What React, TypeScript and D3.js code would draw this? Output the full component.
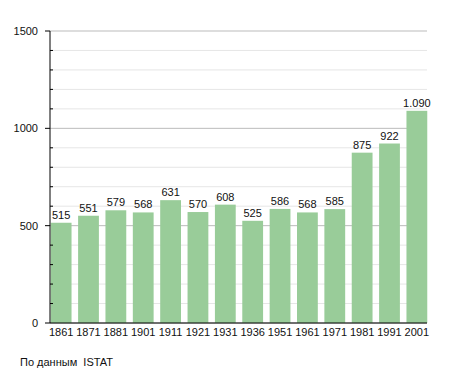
import React from "react";
import * as d3 from "d3";

const years = ["1861", "1871", "1881", "1901", "1911", "1921", "1931", "1936", "1951", "1961", "1971", "1981", "1991", "2001"];
const population = [515, 551, 579, 568, 631, 570, 608, 525, 586, 568, 585, 875, 922, 1090];
const majorTicks = [0, 500, 1000, 1500];
const minorTicks = d3.range(0, 1501, 100).filter((v) => v % 500 !== 0);

const width = 455;
const height = 373;

const fmt = (v: number) => (v >= 1000 ? d3.format(",")(v).replace(",", ".") : String(v));

const App: React.FC = () => {
  const x = d3
    .scaleBand<string>()
    .domain(years)
    .range([48, 430])
    .paddingInner(0.24)
    .paddingOuter(0.1);

  const y = d3.scaleLinear().domain([0, 1500]).range([323, 31]);

  const left = 50;
  const right = 427;
  const font = "'Liberation Sans', Arial, sans-serif";

  return (
    <svg
      width={width}
      height={height}
      style={{ position: "absolute", left: 0, top: 0, background: "#fff" }}
      fontFamily={font}
    >
      {/* minor grid */}
      {minorTicks.map((t) => (
        <line key={"mg" + t} x1={left} x2={right} y1={y(t)} y2={y(t)} stroke="#e6e6e6" strokeWidth={1} />
      ))}
      {/* major grid */}
      {majorTicks.map((t) => (
        <line key={"Mg" + t} x1={left} x2={right} y1={y(t)} y2={y(t)} stroke="#bbbbbb" strokeWidth={1} />
      ))}

      {/* bars */}
      {years.map((yr, i) => (
        <rect
          key={yr}
          x={x(yr) || 0}
          y={y(population[i])}
          width={x.bandwidth()}
          height={y(0) - y(population[i])}
          fill="#99cc99"
        />
      ))}

      {/* value labels */}
      {years.map((yr, i) => (
        <text
          key={"v" + yr}
          x={(x(yr) || 0) + x.bandwidth() / 2}
          y={y(population[i]) - 4}
          textAnchor="middle"
          fontSize={11}
          fill="#111"
        >
          {fmt(population[i])}
        </text>
      ))}

      {/* axes */}
      <line x1={left} x2={left} y1={y(1500)} y2={y(0)} stroke="#000" strokeWidth={1} />
      <line x1={left} x2={right} y1={y(0)} y2={y(0)} stroke="#000" strokeWidth={1} />
      {majorTicks.map((t) => (
        <g key={"mt" + t}>
          <line x1={left - 5} x2={left} y1={y(t)} y2={y(t)} stroke="#000" />
          <text x={38} y={y(t) + 4} textAnchor="end" fontSize={11} fill="#111">
            {t}
          </text>
        </g>
      ))}
      {minorTicks.map((t) => (
        <line key={"mt" + t} x1={left} x2={left + 3} y1={y(t)} y2={y(t)} stroke="#000" />
      ))}

      {years.map((yr) => (
        <text
          key={"x" + yr}
          x={(x(yr) || 0) + x.bandwidth() / 2}
          y={336}
          textAnchor="middle"
          fontSize={11}
          fill="#111"
        >
          {yr}
        </text>
      ))}

      <text x={20} y={366} fontSize={11} fill="#111">
        {"По данным\u00a0 ISTAT"}
      </text>
    </svg>
  );
};

export default App;
